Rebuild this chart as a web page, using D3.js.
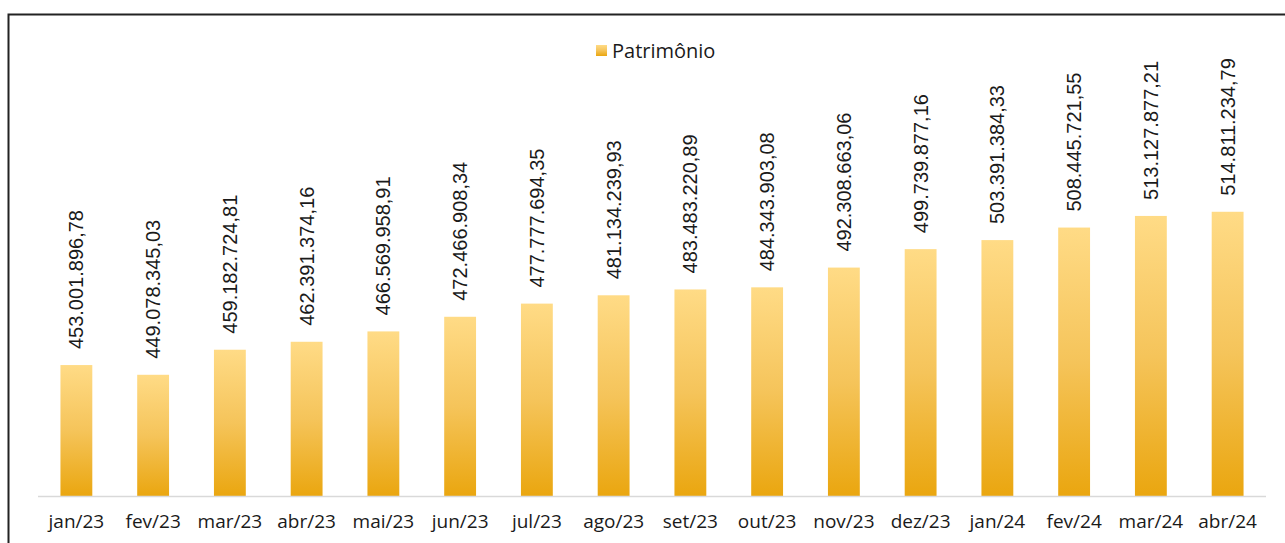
<!DOCTYPE html>
<html>
<head>
<meta charset="utf-8">
<script src="https://cdn.jsdelivr.net/npm/d3@7/dist/d3.min.js"></script>
<style>
  html, body { margin: 0; padding: 0; background: #fff; }
  svg { display: block; }
</style>
</head>
<body>
<svg id="chart" width="1285" height="543"></svg>
<script>
// Monthly net worth (Patrimônio), R$
const months = ["jan/23","fev/23","mar/23","abr/23","mai/23","jun/23","jul/23","ago/23",
                "set/23","out/23","nov/23","dez/23","jan/24","fev/24","mar/24","abr/24"];
const patrimonio = [453001896.78, 449078345.03, 459182724.81, 462391374.16, 466569958.91,
                    472466908.34, 477777694.35, 481134239.93, 483483220.89, 484343903.08,
                    492308663.06, 499739877.16, 503391384.33, 508445721.55, 513127877.21,
                    514811234.79];
const seriesName = "Patrimônio";
const yDomain = [400000000, 550000000];

const svg = d3.select("#chart");
const W = 1285, H = 543;

// Gradient fill used by bars and legend swatch
const defs = svg.append("defs");
const grad = defs.append("linearGradient")
  .attr("id", "barGrad").attr("x1", 0).attr("y1", 0).attr("x2", 0).attr("y2", 1);
grad.append("stop").attr("offset", "0%").attr("stop-color", "#FFDB86");
grad.append("stop").attr("offset", "50%").attr("stop-color", "#F5C45A");
grad.append("stop").attr("offset", "100%").attr("stop-color", "#EAA60F");

// Chart frame
svg.append("path")
  .attr("d", `M8.5,${H} V14.5 H${W}`)
  .attr("fill", "none").attr("stroke", "#222").attr("stroke-width", 2);

const plot = { left: 38, right: 1266, top: 124.5, bottom: 496.5 };

const x = d3.scaleBand()
  .domain(months)
  .range([plot.left, plot.right])
  .paddingInner(0.585)
  .paddingOuter(0.2925);

const y = d3.scaleLinear().domain(yDomain).range([plot.bottom, plot.top]);

const fmt = v => {
  const [int, dec] = v.toFixed(2).split(".");
  return int.replace(/\B(?=(\d{3})+(?!\d))/g, ".") + "," + dec;
};

const data = months.map((m, i) => ({ m, v: patrimonio[i] }));

// Prefer a condensed face for the value labels when it is available
function textWidth(family, size) {
  const t = svg.append("text").attr("font-family", family).attr("font-size", size)
    .text("453.001.896,78");
  const w = t.node().getComputedTextLength();
  t.remove();
  return w;
}
const narrowAvailable = textWidth("'Liberation Sans Narrow'", 20) < 0.9 * textWidth("'Liberation Sans'", 20);
const labelFont = narrowAvailable ? "'Liberation Sans Narrow', 'Liberation Sans', Arial, sans-serif"
                                  : "'Liberation Sans', Arial, sans-serif";
const labelSize = narrowAvailable ? 20 : 17.5;

// Bars
svg.append("g").selectAll("rect")
  .data(data).join("rect")
  .attr("x", d => x(d.m))
  .attr("y", d => y(d.v))
  .attr("width", x.bandwidth())
  .attr("height", d => y(yDomain[0]) - y(d.v))
  .attr("fill", "url(#barGrad)");

// Value labels, rotated
svg.append("g").selectAll("text")
  .data(data).join("text")
  .attr("transform", d => `translate(${x(d.m) + x.bandwidth() / 2},${y(d.v) - 16}) rotate(-90)`)
  .attr("text-anchor", "start")
  .attr("dy", "0.35em")
  .attr("font-family", labelFont)
  .attr("font-size", labelSize)
  .attr("fill", "#1a1a1a")
  .text(d => fmt(d.v));

// Category axis
const xAxis = svg.append("g")
  .attr("transform", `translate(0,${plot.bottom})`)
  .call(d3.axisBottom(x).tickSize(0).tickPadding(18));
xAxis.select(".domain").attr("stroke", "#D9D9D9").attr("stroke-width", 1.5)
  .attr("d", `M${plot.left},0H${plot.right}`);
xAxis.selectAll("text")
  .attr("font-family", "'Open Sans', 'Noto Sans', sans-serif")
  .attr("font-size", 19)
  .attr("fill", "#1a1a1a");

// Legend
const legend = svg.append("g").attr("transform", "translate(596,45)");
legend.append("rect").attr("width", 11).attr("height", 11).attr("fill", "url(#barGrad)");
legend.append("text")
  .attr("x", 16).attr("y", 5.5).attr("dy", "0.35em")
  .attr("font-family", "'Open Sans', 'Noto Sans', sans-serif")
  .attr("font-size", 20)
  .attr("fill", "#1a1a1a")
  .text(seriesName);
</script>
</body>
</html>
